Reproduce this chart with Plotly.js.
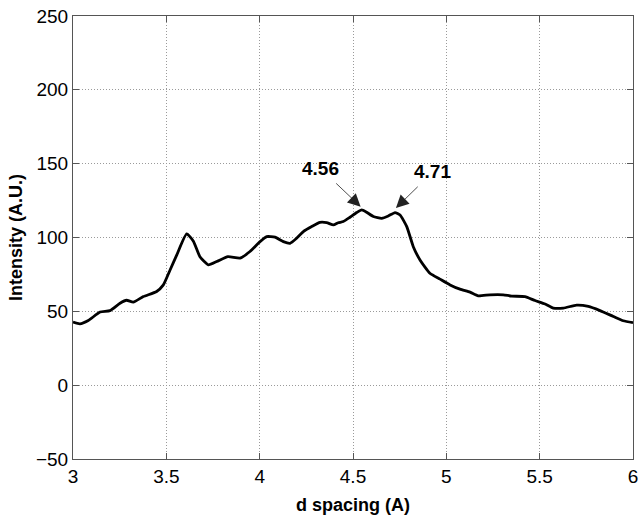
<!DOCTYPE html>
<html>
<head>
<meta charset="utf-8">
<script src="https://cdn.plot.ly/plotly-3.0.1.min.js"></script>
<style>html,body{margin:0;padding:0;background:#fff;}#chart{width:641px;height:521px;}</style>
</head>
<body>
<div id="chart"></div>
<script>
const dSpacing = [3.0, 3.037, 3.082, 3.145, 3.198, 3.252, 3.287, 3.323, 3.377, 3.448, 3.484, 3.52, 3.556, 3.609, 3.645, 3.68, 3.725, 3.77, 3.83, 3.895, 3.948, 4.002, 4.038, 4.082, 4.127, 4.163, 4.198, 4.234, 4.279, 4.323, 4.359, 4.395, 4.421, 4.448, 4.484, 4.52, 4.547, 4.573, 4.609, 4.654, 4.689, 4.725, 4.752, 4.788, 4.823, 4.859, 4.912, 4.966, 5.02, 5.073, 5.127, 5.171, 5.234, 5.305, 5.35, 5.421, 5.475, 5.529, 5.573, 5.627, 5.698, 5.761, 5.823, 5.895, 5.948, 6.0];
const intensity = [42.7, 41.5, 43.8, 49.5, 50.5, 55.5, 57.5, 56.2, 60, 63.4, 67.9, 78, 88.2, 102.4, 97.5, 87, 81.5, 83.7, 87, 86, 90.5, 97.2, 100.6, 100.2, 97.2, 96.1, 99.5, 104, 107.4, 110.3, 110.1, 108.5, 110, 110.8, 113.7, 116.9, 118.7, 117.1, 114.2, 113, 114.6, 116.9, 115.3, 107.4, 93.8, 84.8, 75.8, 71.8, 67.9, 65, 63, 60.5, 61.2, 61.2, 60.3, 60, 57.3, 55, 52.2, 52.2, 54.2, 53.3, 50.5, 46.5, 43.6, 42.4];
const peakLabels = ['4.56', '4.71'];
const peakX = [4.541, 4.730];
const peakY = [120.9, 120.0];
const xTicks = [3, 3.5, 4, 4.5, 5, 5.5, 6];
const xTickText = ['3', '3.5', '4', '4.5', '5', '5.5', '6'];
const yTicks = [-50, 0, 50, 100, 150, 200, 250];

const FONT = '"Liberation Sans", Arial, Helvetica, sans-serif';
const offsets = [[-40, -38], [37, -36]];

const trace = {
  x: dSpacing, y: intensity, type: 'scatter', mode: 'lines',
  line: {color: '#000', width: 2.8, shape: 'spline', smoothing: 0.5},
  hoverinfo: 'skip'
};

const annotations = peakLabels.map((t, i) => ({
  x: peakX[i], y: peakY[i], xref: 'x', yref: 'y',
  text: '<b>' + t + '</b>', showarrow: true,
  ax: offsets[i][0], ay: offsets[i][1],
  arrowhead: 2, arrowsize: 3.2, arrowwidth: 0.8, arrowcolor: '#222',
  startstandoff: 4,
  font: {family: FONT, size: 19, color: '#000'}
}));

const axisCommon = {
  showline: true, linecolor: '#555', linewidth: 1, mirror: 'ticks',
  ticks: 'inside', ticklen: 6, tickcolor: '#555', tickwidth: 1,
  showgrid: true, gridcolor: '#9a9a9a', griddash: '1px,2px', gridwidth: 1,
  zeroline: false,
  tickfont: {family: FONT, size: 19, color: '#000'}
};

const layout = {
  width: 641, height: 521,
  margin: {l: 73, r: 8, t: 16, b: 62},
  paper_bgcolor: '#fff', plot_bgcolor: '#fff',
  showlegend: false,
  xaxis: Object.assign({}, axisCommon, {
    range: [3, 6], tickvals: xTicks, ticktext: xTickText,
    title: {text: '<b>d spacing (A)</b>', font: {family: FONT, size: 18, color: '#000'}, standoff: 12}
  }),
  yaxis: Object.assign({}, axisCommon, {
    range: [-50, 250], tickvals: yTicks,
    title: {text: '<b>Intensity (A.U.)</b>', font: {family: FONT, size: 18, color: '#000'}, standoff: 8}
  }),
  annotations: annotations
};

Plotly.newPlot('chart', [trace], layout, {displayModeBar: false, staticPlot: true});
</script>
</body>
</html>
